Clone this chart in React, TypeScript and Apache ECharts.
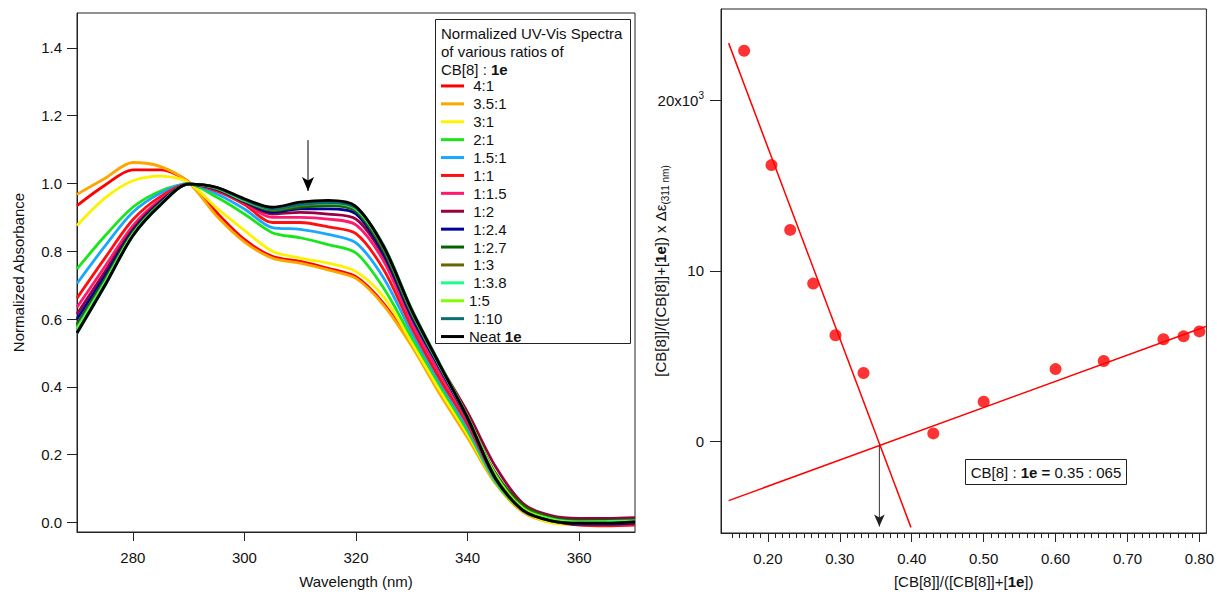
import React, { useEffect, useRef } from 'react';
import * as echarts from 'echarts';

const FONT = '"Liberation Sans", Arial, Helvetica, sans-serif';

// ---------- Left panel: normalized UV-Vis spectra ----------
const wavelengths = [270, 275, 280, 285, 290, 295, 300, 305, 310, 315, 320, 325, 330, 335, 340, 345, 350, 355, 360, 365, 370];

const ratioNames = ['4:1', '3.5:1', '3:1', '2:1', '1.5:1', '1:1', '1:1.5', '1:2', '1:2.4', '1:2.7', '1:3', '1:3.8', '1:5', '1:10', 'Neat 1e'];
const ratioColors = ['#ff0000', '#ffa500', '#fff200', '#19e619', '#1aa8ff', '#ff1010', '#ff1a70', '#990040', '#000099', '#006400', '#666600', '#1aff8c', '#80ff00', '#0a6e6e', '#000000'];

const abs41 = [0.935, 0.995, 1.04, 1.04, 1.005, 0.915, 0.835, 0.785, 0.77, 0.75, 0.725, 0.645, 0.525, 0.385, 0.255, 0.12, 0.035, 0.004, -0.006, -0.008, -0.006];
const abs351 = [0.968, 1.015, 1.062, 1.05, 1.003, 0.905, 0.828, 0.78, 0.765, 0.745, 0.72, 0.64, 0.52, 0.38, 0.25, 0.115, 0.03, 0.0, -0.005, -0.005, -0.003];
const abs31 = [0.876, 0.957, 1.008, 1.022, 1.003, 0.928, 0.862, 0.8, 0.78, 0.765, 0.74, 0.665, 0.53, 0.39, 0.26, 0.12, 0.035, 0.0, -0.005, -0.005, -0.003];
const abs21 = [0.748, 0.845, 0.93, 0.978, 0.998, 0.96, 0.91, 0.855, 0.84, 0.82, 0.795, 0.69, 0.545, 0.405, 0.27, 0.12, 0.035, 0.005, -0.003, -0.003, 0.0];
const abs151 = [0.705, 0.815, 0.915, 0.972, 1.0, 0.97, 0.925, 0.87, 0.865, 0.85, 0.825, 0.72, 0.56, 0.415, 0.28, 0.125, 0.04, 0.008, -0.003, -0.003, 0.0];
const abs11 = [0.662, 0.78, 0.893, 0.962, 0.999, 0.978, 0.938, 0.885, 0.885, 0.872, 0.852, 0.745, 0.575, 0.425, 0.29, 0.13, 0.04, 0.006, -0.008, -0.01, -0.008];
const abs1115 = [0.635, 0.755, 0.875, 0.953, 0.998, 0.98, 0.942, 0.9, 0.9, 0.895, 0.878, 0.77, 0.59, 0.44, 0.3, 0.135, 0.045, 0.012, 0.0, 0.0, 0.002];
const abs12 = [0.615, 0.74, 0.865, 0.948, 0.998, 0.982, 0.945, 0.91, 0.915, 0.91, 0.895, 0.785, 0.61, 0.465, 0.325, 0.165, 0.055, 0.02, 0.012, 0.012, 0.014];
const abs124 = [0.6, 0.728, 0.86, 0.945, 0.998, 0.983, 0.947, 0.915, 0.925, 0.925, 0.91, 0.79, 0.605, 0.455, 0.305, 0.135, 0.04, 0.008, -0.005, -0.005, -0.002];
const abs127 = [0.585, 0.718, 0.855, 0.942, 0.998, 0.985, 0.948, 0.92, 0.93, 0.935, 0.918, 0.8, 0.615, 0.46, 0.31, 0.145, 0.05, 0.015, 0.006, 0.006, 0.008];
const abs13 = [0.578, 0.712, 0.852, 0.94, 0.998, 0.985, 0.95, 0.922, 0.935, 0.94, 0.922, 0.805, 0.618, 0.462, 0.31, 0.14, 0.045, 0.012, 0.003, 0.003, 0.005];
const abs138 = [0.572, 0.708, 0.85, 0.94, 0.998, 0.987, 0.95, 0.925, 0.938, 0.942, 0.925, 0.81, 0.622, 0.462, 0.308, 0.135, 0.04, 0.01, 0.002, 0.003, 0.005];
const abs15 = [0.565, 0.703, 0.848, 0.938, 0.998, 0.988, 0.952, 0.928, 0.942, 0.946, 0.93, 0.815, 0.628, 0.468, 0.312, 0.14, 0.04, 0.008, 0.0, 0.0, 0.003];
const abs110 = [0.558, 0.698, 0.845, 0.937, 0.998, 0.988, 0.952, 0.925, 0.938, 0.944, 0.928, 0.815, 0.628, 0.468, 0.31, 0.132, 0.035, 0.005, -0.002, -0.002, 0.002];
const absNeat = [0.56, 0.7, 0.846, 0.938, 0.998, 0.989, 0.955, 0.93, 0.945, 0.95, 0.932, 0.812, 0.625, 0.465, 0.308, 0.13, 0.035, 0.005, -0.002, -0.002, 0.002];

const spectra = [abs41, abs351, abs31, abs21, abs151, abs11, abs1115, abs12, abs124, abs127, abs13, abs138, abs15, abs110, absNeat];
// drawing order (black neat drawn before 1:10 so teal sits on top)
const drawOrder = [0, 1, 2, 3, 4, 5, 6, 7, 8, 9, 10, 11, 12, 14, 13];

const leftXTicks = [280, 300, 320, 340, 360];
const leftYTicks = [0, 0.2, 0.4, 0.6, 0.8, 1.0, 1.2, 1.4];
const arrowLeft = { x: 311.4, yStart: 1.128, yEnd: 0.978 };

// ---------- Right panel: Job plot ----------
const jobX = [0.167, 0.205, 0.231, 0.263, 0.294, 0.333, 0.43, 0.5, 0.6, 0.667, 0.75, 0.778, 0.8];
const jobY = [22900, 16200, 12400, 9250, 6220, 4010, 470, 2330, 4240, 4710, 5990, 6160, 6450];
const fitSteepX = [0.1454, 0.3989];
const fitSteepY = [23350, -5040];
const fitShallowX = [0.1454, 0.809];
const fitShallowY = [-3470, 6740];
const rightXTicks = [0.2, 0.3, 0.4, 0.5, 0.6, 0.7, 0.8];
const rightYTicks = [0, 10000, 20000];
const arrowRight = { x: 0.355, yStart: -230, yEnd: -4990 };

const minorTicks: number[] = [];
for (let i = 15; i <= 80; i++) minorTicks.push(i / 100);

export default function App() {
  const ref = useRef<HTMLDivElement>(null);
  useEffect(() => {
    if (!ref.current) return;
    const chart = echarts.init(ref.current, null, { renderer: 'svg' });
    const axisColor = '#222';
    const textColor = '#111';

    const specSeries = drawOrder.map((i) => ({
      name: ratioNames[i],
      type: 'line',
      xAxisIndex: 0,
      yAxisIndex: 0,
      data: wavelengths.map((w, k) => [w, spectra[i][k]]),
      showSymbol: false,
      smooth: 0.3,
      lineStyle: { color: ratioColors[i], width: 2.8 },
      itemStyle: { color: ratioColors[i] },
      z: 2 + i * 0.01,
    }));

    const option: any = {
      animation: false,
      backgroundColor: '#fff',
      textStyle: { fontFamily: FONT },
      grid: [
        { left: 77, top: 13, width: 558, height: 524, show: true, borderColor: axisColor, borderWidth: 1, backgroundColor: 'transparent' },
        { left: 721, top: 9, width: 486, height: 528, show: true, borderColor: axisColor, borderWidth: 1, backgroundColor: 'transparent' },
      ],
      xAxis: [
        {
          gridIndex: 0, type: 'value', min: 270, max: 370,
          axisLine: { show: true, onZero: false, lineStyle: { color: axisColor } },
          axisTick: { show: true, length: 9, customValues: leftXTicks, lineStyle: { color: axisColor } },
          axisLabel: { customValues: leftXTicks, fontSize: 15, color: textColor, margin: 18, fontFamily: FONT },
          splitLine: { show: false },
          name: 'Wavelength (nm)', nameLocation: 'middle', nameGap: 42, nameMoveOverlap: false,
          nameTextStyle: { fontSize: 15, color: textColor, fontFamily: FONT },
        },
        {
          gridIndex: 1, type: 'value', min: 0.1348, max: 0.8097, position: 'bottom',
          axisLine: { show: true, onZero: false, lineStyle: { color: axisColor } },
          axisTick: { show: true, length: 9, customValues: rightXTicks, lineStyle: { color: axisColor } },
          axisLabel: { customValues: rightXTicks, fontSize: 15, color: textColor, margin: 18, fontFamily: FONT, formatter: (v: number) => v.toFixed(2) },
          splitLine: { show: false },
          name: '[CB[8]]/([CB[8]]+[{b|1e}])', nameLocation: 'middle', nameGap: 41, nameMoveOverlap: false,
          nameTextStyle: { fontSize: 15, color: textColor, fontFamily: FONT, rich: { b: { fontWeight: 'bold', fontSize: 15, fontFamily: FONT, color: textColor } } },
        },
        {
          gridIndex: 1, type: 'value', min: 0.1348, max: 0.8097, position: 'bottom',
          axisLine: { show: false, onZero: false },
          axisTick: { show: true, length: 5, customValues: minorTicks, lineStyle: { color: axisColor } },
          axisLabel: { show: false },
          splitLine: { show: false },
        },
      ],
      yAxis: [
        {
          gridIndex: 0, type: 'value', min: -0.028, max: 1.503,
          axisLine: { show: true, onZero: false, lineStyle: { color: axisColor } },
          axisTick: { show: true, length: 10, customValues: leftYTicks, lineStyle: { color: axisColor } },
          axisLabel: { customValues: leftYTicks, fontSize: 15, color: textColor, margin: 15, fontFamily: FONT, formatter: (v: number) => v.toFixed(1) },
          splitLine: { show: false },
          name: 'Normalized Absorbance', nameLocation: 'middle', nameGap: 51, nameMoveOverlap: false,
          nameTextStyle: { fontSize: 15, color: textColor, fontFamily: FONT },
        },
        {
          gridIndex: 1, type: 'value', min: -5370, max: 25350,
          axisLine: { show: true, onZero: false, lineStyle: { color: axisColor } },
          axisTick: { show: true, length: 11, customValues: rightYTicks, lineStyle: { color: axisColor } },
          axisLabel: {
            customValues: rightYTicks, fontSize: 15, color: textColor, margin: 17, fontFamily: FONT, lineHeight: 20,
            formatter: (v: number) => (v === 20000 ? '20x10{sup|3}' : String(v / 1000)),
            rich: { sup: { fontSize: 10, verticalAlign: 'top', lineHeight: 10, color: textColor, fontFamily: FONT } },
          },
          splitLine: { show: false },
          name: '[CB[8]]/([CB[8]]+[{b|1e}]) x Δε{sub|(311 nm)}', nameLocation: 'middle', nameGap: 51, nameMoveOverlap: false,
          nameTextStyle: {
            fontSize: 15, color: textColor, fontFamily: FONT, lineHeight: 20,
            rich: {
              b: { fontWeight: 'bold', fontSize: 15, fontFamily: FONT, color: textColor, lineHeight: 20 },
              sub: { fontSize: 10, verticalAlign: 'bottom', lineHeight: 10, fontFamily: FONT, color: textColor },
            },
          },
        },
      ],
      legend: {
        data: ratioNames,
        orient: 'vertical',
        left: 441,
        top: 77,
        padding: 0,
        itemWidth: 23,
        itemHeight: 3,
        itemGap: 0,
        icon: 'rect',
        selectedMode: false,
        formatter: (name: string) => {
          if (name === 'Neat 1e') return 'Neat {b|1e}';
          if (name === '1:5') return name;
          return ' ' + name;
        },
        textStyle: {
          fontSize: 15, color: textColor, fontFamily: FONT, lineHeight: 17.9,
          rich: { b: { fontWeight: 'bold', fontSize: 15, color: textColor, fontFamily: FONT, lineHeight: 17.9 } },
        },
      },
      graphic: [
        { type: 'rect', shape: { x: 435.5, y: 19.5, width: 195, height: 324 }, style: { fill: 'none', stroke: '#222', lineWidth: 1 }, z: 10 },
        {
          type: 'text', x: 441, y: 24, z: 10,
          style: {
            text: 'Normalized UV-Vis Spectra\nof various ratios of\nCB[8] : {b|1e}',
            fontSize: 15, fontFamily: FONT, fill: textColor, lineHeight: 18,
            rich: { b: { fontWeight: 'bold', fontSize: 15, fontFamily: FONT, fill: textColor, lineHeight: 18 } },
          },
        },
        { type: 'rect', shape: { x: 965.5, y: 459.5, width: 161, height: 25 }, style: { fill: '#fff', stroke: '#222', lineWidth: 1 }, z: 10 },
        {
          type: 'text', x: 1046, y: 472, z: 11,
          style: {
            text: 'CB[8] : {b|1e =} 0.35 : 065',
            fontSize: 15, fontFamily: FONT, fill: textColor, align: 'center', verticalAlign: 'middle',
            rich: { b: { fontWeight: 'bold', fontSize: 15, fontFamily: FONT, fill: textColor } },
          },
        },
      ],
      series: [
        ...specSeries,
        {
          type: 'line', xAxisIndex: 0, yAxisIndex: 0, silent: true, z: 5,
          lineStyle: { color: '#000', width: 1 }, itemStyle: { color: '#000' },
          data: [
            { value: [arrowLeft.x, arrowLeft.yStart], symbol: 'none' },
            { value: [arrowLeft.x, arrowLeft.yEnd], symbol: 'arrow', symbolSize: [9, 14], symbolRotate: 180 },
          ],
        },
        {
          type: 'line', xAxisIndex: 1, yAxisIndex: 1, silent: true, showSymbol: false, z: 3,
          lineStyle: { color: '#ff0000', width: 1.5 },
          data: fitSteepX.map((x, i) => [x, fitSteepY[i]]),
        },
        {
          type: 'line', xAxisIndex: 1, yAxisIndex: 1, silent: true, showSymbol: false, z: 3,
          lineStyle: { color: '#ff0000', width: 1.5 },
          data: fitShallowX.map((x, i) => [x, fitShallowY[i]]),
        },
        {
          type: 'scatter', xAxisIndex: 1, yAxisIndex: 1, symbolSize: 12, z: 4,
          itemStyle: { color: '#ff0000' },
          data: jobX.map((x, i) => [x, jobY[i]]),
        },
        {
          type: 'line', xAxisIndex: 1, yAxisIndex: 1, silent: true, z: 5,
          lineStyle: { color: '#333', width: 1 }, itemStyle: { color: '#222' },
          data: [
            { value: [arrowRight.x, arrowRight.yStart], symbol: 'none' },
            { value: [arrowRight.x, arrowRight.yEnd], symbol: 'arrow', symbolSize: [8, 12], symbolRotate: 180 },
          ],
        },
      ],
    };
    chart.setOption(option);
    return () => chart.dispose();
  }, []);
  return <div ref={ref} style={{ position: 'fixed', left: 0, top: 0, width: 1217, height: 594, background: '#fff' }} />;
}
